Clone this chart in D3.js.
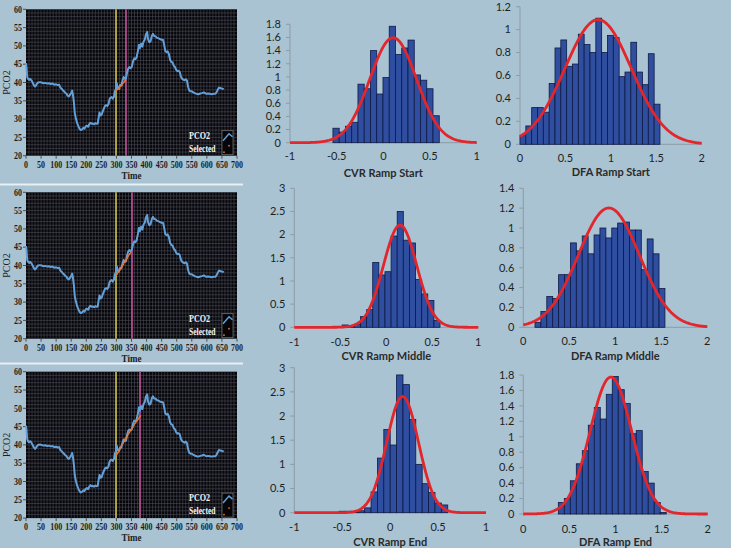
<!DOCTYPE html>
<html><head><meta charset="utf-8">
<script src="https://cdn.jsdelivr.net/npm/d3@7"></script>
<style>body{margin:0;background:#fff}svg{display:block}</style>
</head><body>
<svg id="c" width="734" height="552"></svg>
<script>
// ---------------- DATA ----------------
const pco2Time = [0,2,4,7,10,14,18,22,26,30,33,36,40,46,52,58,64,70,76,82,88,94,100,106,110,114,118,122,126,130,134,138,142,146,150,153,156,159,162,166,170,174,178,182,186,190,194,198,202,206,210,214,218,222,226,230,234,238,241,244,247,251,255,258,262,266,270,274,277,280,284,288,292,295,298,301,304,308,312,316,320,324,328,332,335,339,343,347,351,355,359,363,367,371,375,378,382,386,390,394,398,402,405,409,413,417,421,425,430,435,440,445,450,455,458,462,466,470,474,478,482,486,490,494,498,502,506,510,514,518,522,526,530,534,538,542,546,550,555,560,566,572,578,584,590,594,598,604,610,616,622,628,632,636,640,644,648,652,656];
const pco2Value = [45.3,44.0,41.5,41.0,40.7,41.0,40.6,40.0,39.3,38.9,39.2,39.6,40.0,40.1,40.0,39.8,39.9,39.7,39.8,39.6,39.7,39.4,39.5,39.3,39.4,38.6,38.3,37.9,37.6,37.2,37.0,36.4,36.2,36.6,37.2,37.8,36.5,34.5,31.5,30.0,28.8,28.0,27.3,27.0,27.2,27.6,27.4,28.0,28.2,27.9,28.6,29.0,28.7,28.8,28.6,28.9,28.7,28.8,30.5,31.8,31.0,31.2,32.2,32.8,33.6,33.8,33.6,34.2,35.4,35.8,36.0,35.6,36.2,37.6,38.2,39.8,38.6,38.3,39.3,39.2,40.5,41.5,41.0,41.2,42.6,43.8,44.2,43.9,44.3,45.8,46.6,46.4,46.9,48.5,50.3,49.4,50.6,49.8,51.2,51.7,53.2,53.8,51.8,51.0,51.2,52.6,53.3,52.7,52.6,52.2,52.1,51.8,51.7,51.6,50.5,48.6,48.3,48.5,47.8,46.2,45.6,45.5,44.6,44.3,43.5,43.1,43.2,42.9,41.6,41.0,40.8,40.6,40.9,40.5,38.7,37.8,37.6,37.6,37.3,37.1,36.9,36.8,37.0,37.1,37.3,37.1,36.9,37.0,36.9,36.8,36.9,36.9,37.3,38.0,38.6,38.5,38.4,38.3,38.2];

const selectStart = [300, 300, 300];
const selectEnd   = [330, 350, 380];
const selectedTime1  = [302,306,310,314,318,322,326,330];
const selectedValue1 = [38.0,38.4,38.3,39.0,39.2,39.8,40.2,40.6];
const selectedTime2  = [302,306,310,314,318,322,326,330,334,338,342,346];
const selectedValue2 = [37.6,38.2,38.6,39.2,39.6,40.2,40.8,41.3,41.8,42.4,42.9,43.4];
const selectedTime3  = [302,306,310,314,318,322,326,330,334,338,342,346,350,354,358,362,366,370,374,378];
const selectedValue3 = [37.5,38.0,38.6,39.3,39.8,40.5,41.1,41.7,42.1,42.8,43.3,43.9,44.3,44.8,45.4,45.9,46.4,46.8,47.3,47.8];

const timeTicks = [0,50,100,150,200,250,300,350,400,450,500,550,600,650,700];
const pco2Ticks = [20,25,30,35,40,45,50,55,60];

const histTitles = ["CVR Ramp Start","DFA Ramp Start","CVR Ramp Middle","DFA Ramp Middle","CVR Ramp End","DFA Ramp End"];
const cvrStartDensity  = [0.22,0.16,0.25,0.31,0.89,0.82,1.40,0.74,0.99,1.77,1.34,1.44,1.56,1.03,0.95,0.82,0.41];
const dfaStartDensity  = [0.075,0.16,0.32,0.32,0.28,0.53,0.84,0.91,0.68,0.70,0.96,0.87,0.80,1.10,0.80,0.95,0.93,0.59,0.63,0.89,0.63,0.52,0.79,0.35];
const cvrMiddleDensity = [0.05,0.02,0.07,0.23,0.38,1.40,1.13,1.20,1.97,2.50,1.88,1.82,1.03,0.72,0.58,0.15];
const dfaMiddleDensity = [0.05,0.16,0.31,0.29,0.53,0.53,0.85,0.77,0.92,0.74,0.93,1.00,0.90,1.00,1.05,1.06,0.98,0.98,0.58,0.89,0.74,0.39];
const cvrEndDensity    = [0.03,0.03,0.02,0.04,0.10,0.43,1.13,1.72,1.40,2.85,2.65,1.93,1.00,0.60,0.42,0.20,0.16];
const dfaEndDensity    = [0.15,0.20,0.43,0.65,0.82,1.15,1.38,1.23,1.55,1.78,1.61,1.43,1.04,1.08,0.55,0.40,0.15,0.02];
const binStart = [-0.54, 0.0, -0.48, 0.127, -0.533, 0.38];
const binWidth = [0.067, 0.0642, 0.0665, 0.0642, 0.0667, 0.065];
const fitMean  = [0.105, 0.86, 0.15, 0.93, 0.13, 0.95];
const fitSd    = [0.25, 0.367, 0.181, 0.332, 0.166, 0.225];
const cvrTicks = [-1,-0.5,0,0.5,1];
const dfaTicks = [0,0.5,1,1.5,2];
const yMax     = [1.8, 1.2, 3, 1.4, 3, 1.8];
const yStep    = [0.2, 0.2, 0.5, 0.2, 0.5, 0.2];

// ---------------- DRAW ----------------
const svg = d3.select("#c");
svg.append("rect").attr("width",734).attr("height",552).attr("fill","#a9c3d2");
svg.append("rect").attr("x",0).attr("y",183.5).attr("width",243).attr("height",2).attr("fill","#e9f0f4");
svg.append("rect").attr("x",0).attr("y",362.5).attr("width",243).attr("height",2).attr("fill","#e9f0f4");
svg.append("rect").attr("x",0).attr("y",548).attr("width",734).attr("height",4).attr("fill","#fff");
svg.append("rect").attr("x",731).attr("y",0).attr("width",3).attr("height",552).attr("fill","#fff");

const serif = "'Liberation Serif','Times New Roman',serif";
function stext(g, x, y, str, anchor, size, weight, fill, sx){
  return g.append("text").attr("transform",`translate(${x},${y}) scale(${sx||0.8},1)`)
    .attr("text-anchor",anchor).attr("font-family",serif).attr("font-size",size)
    .attr("font-weight",weight).attr("fill",fill).text(str);
}
const even = v => Math.round(v / 2) * 2;

const series = pco2Time.map((t,i)=>({t, v:pco2Value[i]}));
const selT = [selectedTime1, selectedTime2, selectedTime3];
const selV = [selectedValue1, selectedValue2, selectedValue3];
const panelTop = [9.3, 192.3, 371.7];

panelTop.forEach((top, p) => {
  const g = svg.append("g");
  const x = d3.scaleLinear().domain([0,700]).range([26,237]);
  const y = d3.scaleLinear().domain([20,60]).range([top+146.4, top]);
  g.append("rect").attr("x",x(0)).attr("y",y(60)).attr("width",x(700)-x(0)).attr("height",y(20)-y(60)).attr("fill","#06060a");
  // grid
  const gx = d3.range(10,700,10), gy = d3.range(21,60,1);
  g.selectAll(".gx").data(gx).join("line").attr("x1",d=>x(d)).attr("x2",d=>x(d)).attr("y1",y(60)).attr("y2",y(20))
    .attr("stroke","#4c4c58").attr("stroke-width",0.6);
  g.selectAll(".gy").data(gy).join("line").attr("y1",d=>y(d)).attr("y2",d=>y(d)).attr("x1",x(0)).attr("x2",x(700))
    .attr("stroke","#4c4c58").attr("stroke-width",0.6);
  // ticks
  g.selectAll(".ty").data(pco2Ticks).join("line").attr("x1",x(0)-3).attr("x2",x(0)).attr("y1",d=>y(d)).attr("y2",d=>y(d)).attr("stroke","#333").attr("stroke-width",0.8);
  g.selectAll(".tx").data(timeTicks).join("line").attr("y1",y(20)).attr("y2",y(20)+3).attr("x1",d=>x(d)).attr("x2",d=>x(d)).attr("stroke","#333").attr("stroke-width",0.8);
  pco2Ticks.forEach(d => stext(g, x(0)-4, y(d)+3.2, d, "end", 10, "bold", "#1e1e1e"));
  timeTicks.forEach(d => stext(g, x(d), y(20)+12, d, "middle", 10, "bold", "#1e1e1e"));
  stext(g, x(350), y(20)+23, "Time", "middle", 10, "bold", "#1e1e1e", 0.9);
  g.append("text").attr("transform",`translate(${10},${(y(20)+y(60))/2}) rotate(-90)`).attr("text-anchor","middle")
    .attr("font-family",serif).attr("font-size",10).attr("fill","#1e1e1e").text("PCO2");
  // vertical selection lines (2px wide, pixel aligned)
  g.append("line").attr("x1",even(x(selectStart[p]))).attr("x2",even(x(selectStart[p]))).attr("y1",y(60)).attr("y2",y(20)).attr("stroke","#d2c24a").attr("stroke-width",1.6);
  g.append("line").attr("x1",even(x(selectEnd[p]))).attr("x2",even(x(selectEnd[p]))).attr("y1",y(60)).attr("y2",y(20)).attr("stroke","#c44f98").attr("stroke-width",1.6);
  // line
  g.append("path").datum(series).attr("fill","none").attr("stroke","#63a0d8").attr("stroke-width",2)
    .attr("stroke-linejoin","round").attr("d", d3.line().x(d=>x(d.t)).y(d=>y(d.v)));
  // selected
  const sel = selT[p].map((t,i)=>({t, v:selV[p][i]}));
  g.selectAll(".sel").data(sel).join("line").attr("x1",d=>x(d.t)-0.9).attr("x2",d=>x(d.t)+0.9)
    .attr("y1",d=>y(d.v)+0.9).attr("y2",d=>y(d.v)-0.9).attr("stroke","#ea7430").attr("stroke-width",1.5);
  // legend
  stext(g, 189, y(20)-17, "PCO2", "start", 9.5, "bold", "#f4f4f4", 0.85);
  stext(g, 189, y(20)-4, "Selected", "start", 9.5, "bold", "#f4f4f4", 0.8);
  const lb = g.append("g").attr("transform",`translate(222,${y(20)-25})`);
  lb.append("rect").attr("width",11).attr("height",24).attr("fill","#05050a").attr("stroke","#7a7a7a").attr("stroke-width",0.7);
  lb.append("path").attr("d","M1,10 L7,3 L10.5,6").attr("fill","none").attr("stroke","#63a0d8").attr("stroke-width",1.5);
  lb.append("circle").attr("cx",7).attr("cy",15).attr("r",0.9).attr("fill","#e8742e");
  lb.append("circle").attr("cx",2).attr("cy",21.5).attr("r",0.9).attr("fill","#e8742e");
});

// histograms
const histData = [cvrStartDensity, dfaStartDensity, cvrMiddleDensity, dfaMiddleDensity, cvrEndDensity, dfaEndDensity];
const histBox = [
  {x0:290, x1:476.7, yb:142.7, yt:24.3, lab:156, tit:173},
  {x0:520, x1:701.7, yb:144.3, yt:6.7, lab:158.3, tit:172.3},
  {x0:294.3, x1:478.3, yb:327.3, yt:188.3, lab:341.7, tit:355.7},
  {x0:523.3, x1:707.3, yb:327.3, yt:188.3, lab:340.7, tit:355.7},
  {x0:294.3, x1:486, yb:512.7, yt:367.7, lab:526.7, tit:542.3},
  {x0:523.3, x1:707.7, yb:514, yt:375, lab:528.7, tit:542.3}
];
const sans = "Lato,'Open Sans',sans-serif";
histData.forEach((vals, h) => {
  const b = histBox[h];
  const isCvr = h % 2 === 0;
  const xt = isCvr ? cvrTicks : dfaTicks;
  const x = d3.scaleLinear().domain(isCvr ? [-1,1] : [0,2]).range([b.x0, b.x1]);
  const y = d3.scaleLinear().domain([0, yMax[h]]).range([b.yb, b.yt]);
  const g = svg.append("g");
  const yt = d3.range(0, yMax[h] + 1e-9, yStep[h]);
  g.append("line").attr("x1",x.range()[0]).attr("x2",x.range()[0]).attr("y1",y(0)).attr("y2",y(yMax[h])).attr("stroke","#8d9ca7");
  g.selectAll(".yt").data(yt).join("line").attr("x1",x.range()[0]-4).attr("x2",x.range()[0]).attr("y1",d=>y(d)).attr("y2",d=>y(d)).attr("stroke","#8d9ca7");
  g.append("line").attr("x1",b.x0).attr("x2",b.x1).attr("y1",y(0)).attr("y2",y(0)).attr("stroke","#8d9ca7");
  g.selectAll(".yl").data(yt).join("text").attr("x",b.x0-9).attr("y",d=>y(d)+3.8).attr("text-anchor","end")
    .attr("font-family",sans).attr("font-size",11).attr("fill","#1f1f1f").text(d=>+d.toFixed(1));
  g.selectAll(".xl").data(xt).join("text").attr("x",d=>x(d)).attr("y",b.lab+3.8).attr("text-anchor","middle")
    .attr("font-family",sans).attr("font-size",11).attr("fill","#1f1f1f").text(d=>d);
  g.append("text").attr("x",(b.x0+b.x1)/2).attr("y",b.tit+3.8).attr("text-anchor","middle")
    .attr("font-family",sans).attr("font-weight","bold").attr("font-size",11).attr("fill","#2a2a2a").text(histTitles[h]);
  const bars = vals.map((v,i)=>({a:binStart[h]+i*binWidth[h], b:binStart[h]+(i+1)*binWidth[h], v}));
  g.selectAll(".bar").data(bars).join("rect").attr("x",d=>x(d.a)).attr("width",d=>x(d.b)-x(d.a))
    .attr("y",d=>y(d.v)).attr("height",d=>y(0)-y(d.v)).attr("fill","#2f4ea0").attr("stroke","#0e1a44").attr("stroke-width",0.8);
  const m = fitMean[h], s = fitSd[h];
  const xs = d3.range(x.domain()[0], x.domain()[1] + 1e-9, 0.01);
  g.append("path").datum(xs).attr("fill","none").attr("stroke","#e3262b").attr("stroke-width",2.8)
    .attr("d", d3.line().x(d=>x(d)).y(d=>y(Math.exp(-0.5*((d-m)/s)**2)/(s*Math.sqrt(2*Math.PI)))));
});
</script>
</body></html>
